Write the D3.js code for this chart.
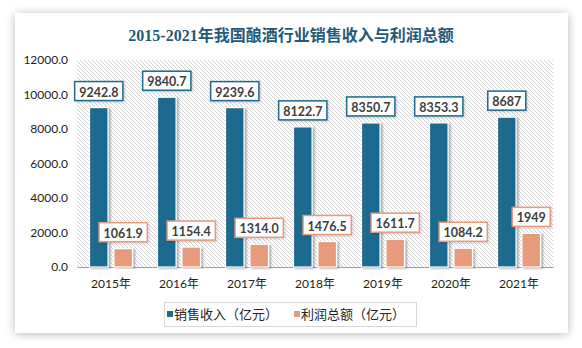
<!DOCTYPE html>
<html><head><meta charset="utf-8">
<script src="https://cdn.jsdelivr.net/npm/d3@7/dist/d3.min.js"></script>
<style>
html,body{margin:0;padding:0;background:#fff;}
svg{display:block;}
</style></head>
<body>
<svg id="chart" width="582" height="348"></svg>
<script>
const title = "2015-2021年我国酿酒行业销售收入与利润总额";
const years = ["2015年","2016年","2017年","2018年","2019年","2020年","2021年"];
const sales = [9242.8, 9840.7, 9239.6, 8122.7, 8350.7, 8353.3, 8687];
const profit = [1061.9, 1154.4, 1314.0, 1476.5, 1611.7, 1084.2, 1949];
const salesLabels = ["9242.8","9840.7","9239.6","8122.7","8350.7","8353.3","8687"];
const profitLabels = ["1061.9","1154.4","1314.0","1476.5","1611.7","1084.2","1949"];
const seriesNames = ["销售收入（亿元）","利润总额（亿元）"];
const yTicks = [0, 2000, 4000, 6000, 8000, 10000, 12000];

const colors = ["#1d6a8d", "#e89b7b"];
const svg = d3.select("#chart");
const defs = svg.append("defs");

// card shadow
const f = defs.append("filter").attr("id","cardShadow").attr("x","-10%").attr("y","-10%").attr("width","120%").attr("height","120%");
f.append("feDropShadow").attr("dx",0).attr("dy",1).attr("stdDeviation",5).attr("flood-color","#000").attr("flood-opacity",0.28);
const bf = defs.append("filter").attr("id","barShadow").attr("x","-30%").attr("y","-10%").attr("width","160%").attr("height","120%");
bf.append("feDropShadow").attr("dx",2).attr("dy",1).attr("stdDeviation",1.2).attr("flood-color","#000").attr("flood-opacity",0.3);
const lf = defs.append("filter").attr("id","lblShadow").attr("x","-20%").attr("y","-20%").attr("width","140%").attr("height","150%");
lf.append("feDropShadow").attr("dx",1).attr("dy",1).attr("stdDeviation",1).attr("flood-color","#000").attr("flood-opacity",0.2);

// hatch
const pat = defs.append("pattern").attr("id","hatch").attr("patternUnits","userSpaceOnUse").attr("width",4).attr("height",4);
pat.append("rect").attr("width",4).attr("height",4).attr("fill","#fff");
pat.append("path").attr("d","M-1,-1 L5,5 M-1,3 L1,5 M3,-1 L5,1").attr("stroke","#d4d4d4").attr("stroke-width",1);

svg.append("rect").attr("x",15).attr("y",13).attr("width",553).attr("height",320)
  .attr("fill","#fff").attr("filter","url(#cardShadow)");

svg.append("text").attr("x",291).attr("y",41).attr("text-anchor","middle")
  .attr("font-family","'Liberation Serif','Noto Sans CJK SC'").attr("font-weight","bold")
  .attr("font-size",16).attr("fill","#1f5b78").text(title);

const plot = {left:77, right:553, top:60, bottom:267};
const x = d3.scaleBand().domain(years).range([plot.left, plot.right]).padding(0);
const y = d3.scaleLinear().domain([0,12000]).range([plot.bottom, plot.top]);
const sub = d3.scaleBand().domain([0,1]).range([0,43]).paddingInner(0.24);

svg.append("rect").attr("x",plot.left).attr("y",plot.top)
  .attr("width",plot.right-plot.left).attr("height",plot.bottom-plot.top).attr("fill","url(#hatch)");

// y axis
const yAxis = d3.axisLeft(y).tickValues(yTicks).tickFormat(d3.format(".1f")).tickSize(0).tickPadding(9);
const yg = svg.append("g").attr("transform",`translate(${plot.left},0)`).call(yAxis);
yg.select(".domain").remove();
yg.selectAll("text").attr("font-family","Lato,'Noto Sans CJK SC'").attr("font-size",12).attr("fill","#222");

// x axis
const xAxis = d3.axisBottom(x).tickSize(0).tickPadding(12);
const xg = svg.append("g").attr("transform",`translate(0,${plot.bottom})`).call(xAxis);
xg.select(".domain").attr("stroke","#a6a6a6").attr("stroke-width",1.2);
xg.selectAll("text").attr("font-family","Lato,'Noto Sans CJK SC'").attr("font-size",12).attr("fill","#222");

const series = [sales, profit];
const labels = [salesLabels, profitLabels];
series.forEach((vals, si) => {
  const g = svg.append("g");
  g.selectAll("rect").data(vals).enter().append("rect")
    .attr("x",(d,i)=> x(years[i]) + x.bandwidth()/2 - 21.5 + sub(si))
    .attr("y",d=>y(d)).attr("width",sub.bandwidth()).attr("height",d=>plot.bottom-y(d))
    .attr("fill",colors[si]).attr("stroke","#fff").attr("stroke-width",1.2)
    .attr("filter","url(#barShadow)");
});

series.forEach((vals, si) => {
  vals.forEach((v,i) => {
    const cx = x(years[i]) + x.bandwidth()/2 - 21.5 + sub(si) + sub.bandwidth()/2;
    const g = svg.append("g");
    const t = g.append("text").attr("x",cx).attr("y",y(v)-11).attr("text-anchor","middle")
      .attr("font-family","Lato,'Noto Sans CJK SC'").attr("font-weight","bold").attr("font-size",12.5)
      .attr("fill","#404040").text(labels[si][i]);
    const w = t.node().getComputedTextLength();
    g.insert("rect","text").attr("x",cx-w/2-4.5).attr("y",y(v)-26).attr("width",w+9).attr("height",19)
      .attr("fill","#fff").attr("stroke",colors[si]).attr("stroke-width",1.5).attr("filter","url(#lblShadow)");
  });
});

// legend
svg.append("rect").attr("x",164.5).attr("y",302.5).attr("width",252).attr("height",24)
  .attr("fill","#fff").attr("stroke","#d9d9d9");
const legX = [167, 294];
seriesNames.forEach((n,i)=>{
  svg.append("rect").attr("x",legX[i]).attr("y",311).attr("width",6).attr("height",6).attr("fill",colors[i]);
  svg.append("text").attr("x",legX[i]+7).attr("y",319).attr("font-family","'Noto Sans CJK SC'")
    .attr("font-size",13).attr("fill","#222").text(n);
});
</script>
</body></html>
